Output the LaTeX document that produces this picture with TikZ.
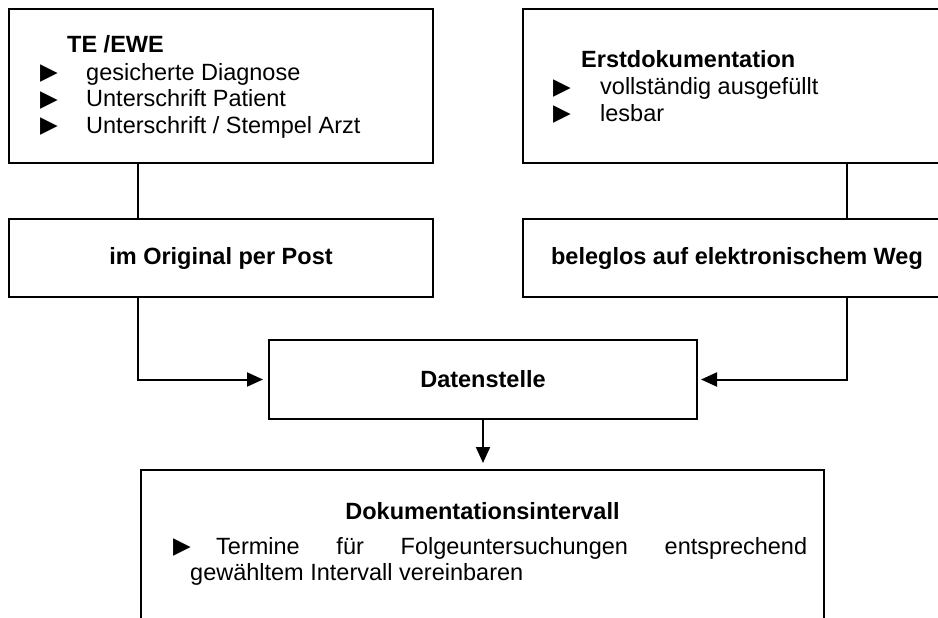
\documentclass[tikz,border=0pt]{standalone}
\usepackage{fontspec}
\setmainfont{Liberation Sans}
\newfontfamily\symfont{DejaVu Sans}
\usetikzlibrary{positioning,arrows.meta}

\newcommand{\pointer}[1]{\makebox[#1][l]{\raisebox{0.5pt}{\symfont\fontsize{23}{23}\selectfont ▶}}}

\begin{document}
\begin{tikzpicture}[x=1pt,y=1pt,
	box/.style={draw, line width=2pt, anchor=north west, inner sep=0pt},
	listtext/.style={font=\fontsize{23.5}{26.5}\selectfont, align=left, inner sep=0pt},
	boldtext/.style={font=\fontsize{23.5}{26.5}\selectfont\bfseries},
	flow/.style={line width=2pt, -{Triangle[length=16pt,width=14pt]}},
	link/.style={line width=2pt}]
	\useasboundingbox (0,0) rectangle (938,-618);
	\clip (0,0) rectangle (938,-618);

	% upper boxes
	\node (tebox) [box, minimum width=424pt, minimum height=154pt] at (8,-8) {};
	\node (tetext) [listtext, anchor=north west] at ([xshift=32pt,yshift=-27pt]tebox.north west)
		{\hspace*{27pt}\textbf{TE /EWE}\\[1.5pt]
		 \pointer{46pt}gesicherte Diagnose\\
		 \pointer{46pt}Unterschrift Patient\\
		 \pointer{46pt}Unterschrift / Stempel Arzt};

	\node (erstbox) [box, minimum width=428pt, minimum height=154pt] at (522,-8) {};
	\node (ersttext) [listtext, anchor=north west] at ([xshift=31pt,yshift=-42pt]erstbox.north west)
		{\hspace*{28pt}\textbf{Erstdokumentation}\\[1pt]
		 \pointer{47pt}vollständig ausgefüllt\\
		 \pointer{47pt}lesbar};

	% transmission paths
	\node (postbox) [box, boldtext, minimum width=424pt, minimum height=78pt] at (8,-218) {im Original per Post};
	\node (webbox) [box, boldtext, minimum width=428pt, minimum height=78pt] at (522,-218) {beleglos auf elektronischem Weg};

	\node (daten) [box, boldtext, minimum width=428pt, minimum height=79pt] at (268,-339) {Datenstelle};

	% lower box, runs off the page
	\node (intervalbox) [box, minimum width=683pt, minimum height=200pt] at (140,-469) {};
	\node (intervaltitle) [boldtext, inner sep=0pt, anchor=base] at ([yshift=-50pt]intervalbox.north) {Dokumentationsintervall};
	\node (intervaltext) [listtext, anchor=north west] at ([xshift=33pt,yshift=-68pt]intervalbox.north west)
		{\pointer{43pt}\makebox[591pt][s]{Termine für Folgeuntersuchungen entsprechend}\\
		 \hspace*{17pt}gewähltem Intervall vereinbaren};

	\coordinate (lx) at (138,0);
	\coordinate (rx) at (847,0);

	\draw[link] (tebox.south -| lx) -- (postbox.north -| lx);
	\draw[link] (erstbox.south -| rx) -- (webbox.north -| rx);
	\draw[flow, shorten >=5pt] (postbox.south -| lx) |- (daten.west);
	\draw[flow, shorten >=3pt] (webbox.south -| rx) |- (daten.east);
	\draw[flow, shorten >=6pt] (daten.south) -- (intervalbox.north -| daten.south);
\end{tikzpicture}
\end{document}
